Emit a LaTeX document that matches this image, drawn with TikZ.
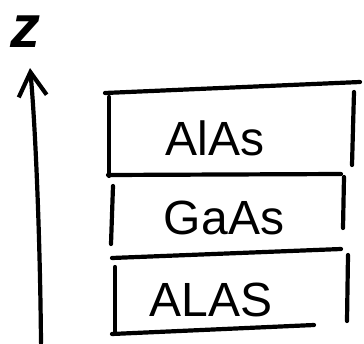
\documentclass[tikz,border=0pt]{standalone}
\usepackage{fontspec}
\setmainfont{Liberation Sans}
\usetikzlibrary{arrows.meta}
\begin{document}
\begin{tikzpicture}[x=1pt,y=-1pt,
  ink/.style={line width=4.2pt, line cap=round, line join=round},
  axis/.style={ink, -{Straight Barb[length=24pt, width=28pt, line width=4.2pt]}},
  lbl/.style={font=\fontsize{48}{48}\selectfont, inner sep=0pt, anchor=base},
  zlbl/.style={font=\fontsize{60}{60}\selectfont\bfseries\itshape, inner sep=0pt, anchor=base}]
  \useasboundingbox (0,0) rectangle (364,343);

  % growth axis
  \coordinate (axbot) at (41,343);
  \coordinate (axtop) at (30,68);
  \draw[axis] (axbot) .. controls (40,230) and (35,120) .. (axtop);
  \node[zlbl] (zlab) at (25,47) {z};

  % corner points of the layer stack
  \coordinate (t1) at (105,93);  \coordinate (t2) at (360,82);
  \coordinate (a1) at (109,97);  \coordinate (a2) at (109,176);
  \coordinate (b1) at (354,92);  \coordinate (b2) at (352,165);
  \coordinate (m1) at (108,175); \coordinate (m2) at (341,174);
  \coordinate (c1) at (113,186); \coordinate (c2) at (111,244);
  \coordinate (d1) at (344,177); \coordinate (d2) at (343,228);
  \coordinate (n1) at (112,258); \coordinate (n2) at (341,249);
  \coordinate (e1) at (115,267); \coordinate (e2) at (115,333);
  \coordinate (f1) at (348,255); \coordinate (f2) at (347,321);
  \coordinate (s1) at (112,334); \coordinate (s2) at (314,325);

  % layer boundaries
  \draw[ink] (t1) -- (t2);
  \draw[ink] (a1) -- (a2);
  \draw[ink] (b1) -- (b2);
  \draw[ink] (m1) -- (m2);
  \draw[ink] (c1) -- (c2);
  \draw[ink] (d1) -- (d2);
  \draw[ink] (n1) -- (n2);
  \draw[ink] (e1) -- (e2);
  \draw[ink] (f1) -- (f2);
  \draw[ink] (s1) -- (s2);

  % layer names
  \node[lbl] (top)    at (215,155) {AlAs};
  \node[lbl] (middle) at (224,234) {GaAs};
  \node[lbl] (bottom) at (211,316) {ALAS};
\end{tikzpicture}
\end{document}
